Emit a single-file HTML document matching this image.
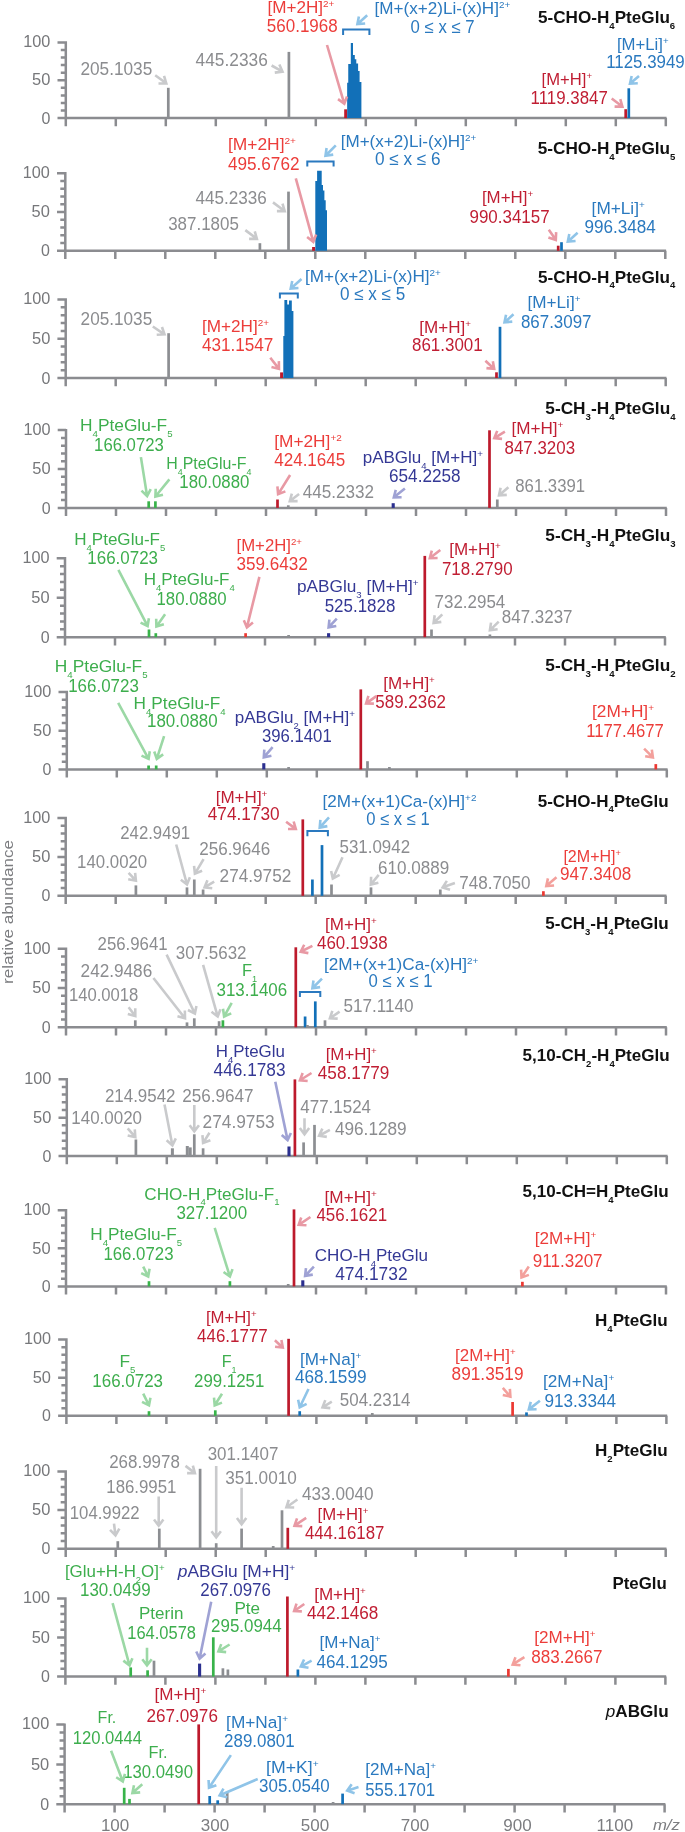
<!DOCTYPE html>
<html><head><meta charset="utf-8"><style>
html,body{margin:0;padding:0;background:#fff;}
svg{display:block;will-change:transform;}
text{font-family:"Liberation Sans", sans-serif;}
</style></head><body>
<svg width="685" height="1832" viewBox="0 0 685 1832">
<rect width="685" height="1832" fill="#ffffff"/>
<path d="M65.80 41.20V126.30M57.50 118.10H666.60M57.50 118.10H65.80M60.80 110.53H65.80M60.80 102.96H65.80M60.80 95.39H65.80M60.80 87.82H65.80M57.50 80.25H65.80M60.80 72.68H65.80M60.80 65.11H65.80M60.80 57.54H65.80M60.80 49.97H65.80M57.50 42.40H65.80M115.80 118.10V126.30M165.80 118.10V126.30M215.80 118.10V126.30M265.80 118.10V126.30M315.80 118.10V126.30M365.80 118.10V126.30M415.80 118.10V126.30M465.80 118.10V126.30M515.80 118.10V126.30M565.80 118.10V126.30M615.80 118.10V126.30M665.80 118.10V126.30" stroke="#8b8c90" stroke-width="2.50" fill="none"/>
<text x="23.30" y="47.20" fill="#76777a" font-size="17" textLength="27.10" lengthAdjust="spacingAndGlyphs">100</text>
<text x="32.10" y="85.45" fill="#76777a" font-size="17" textLength="18.30" lengthAdjust="spacingAndGlyphs">50</text>
<text x="41.50" y="123.70" fill="#76777a" font-size="17" textLength="8.90" lengthAdjust="spacingAndGlyphs">0</text>
<text x="538.0" y="23.3" fill="#111111" font-size="17.0" font-weight="bold" textLength="137.2" lengthAdjust="spacingAndGlyphs">5-CHO-H<tspan font-size="9.5" dy="5.9">4</tspan><tspan dy="-5.9">PteGlu</tspan><tspan font-size="9.5" dy="5.9">6</tspan></text>
<rect x="166.95" y="87.80" width="2.70" height="30.30" fill="#8c8e92"/>
<rect x="287.55" y="51.90" width="2.70" height="66.20" fill="#8c8e92"/>
<rect x="344.20" y="109.30" width="3.00" height="8.80" fill="#bd1a2c"/>
<path d="M347.15 118.10L347.15 82.70L348.25 82.70L348.25 64.10L350.80 64.10L350.80 42.90L353.00 42.90L353.00 55.00L354.80 55.00L354.80 59.30L356.30 59.30L356.30 63.40L358.10 63.40L358.10 71.00L359.60 71.00L359.60 82.00L361.40 82.00L361.40 118.10Z" fill="#1270b8"/>
<rect x="624.35" y="109.20" width="2.70" height="8.90" fill="#bd1a2c"/>
<rect x="627.45" y="88.30" width="2.70" height="29.80" fill="#1270b8"/>
<text x="80.4" y="74.6" fill="#8b8c8f" font-size="17.6" textLength="71.9" lengthAdjust="spacingAndGlyphs">205.1035</text>
<text x="195.6" y="65.7" fill="#8b8c8f" font-size="17.6" textLength="72.2" lengthAdjust="spacingAndGlyphs">445.2336</text>
<text x="267.5" y="13.4" fill="#ec3d3a" font-size="16.8" textLength="66.9" lengthAdjust="spacingAndGlyphs">[M+2H]<tspan font-size="9.7" dy="-6.0">2+</tspan></text>
<text x="266.8" y="31.6" fill="#ec3d3a" font-size="17.6" textLength="70.9" lengthAdjust="spacingAndGlyphs">560.1968</text>
<text x="374.5" y="13.8" fill="#2a79bf" font-size="16.8" textLength="135.7" lengthAdjust="spacingAndGlyphs">[M+(x+2)Li-(x)H]<tspan font-size="9.7" dy="-6.0">2+</tspan></text>
<text x="410.6" y="32.9" fill="#2a79bf" font-size="17.6" textLength="64.1" lengthAdjust="spacingAndGlyphs">0 ≤ x ≤ 7</text>
<text x="616.9" y="49.9" fill="#2a79bf" font-size="16.8" textLength="51.7" lengthAdjust="spacingAndGlyphs">[M+Li]<tspan font-size="9.7" dy="-6.0">+</tspan></text>
<text x="606.2" y="68.4" fill="#2a79bf" font-size="17.6" textLength="78.5" lengthAdjust="spacingAndGlyphs">1125.3949</text>
<text x="541.6" y="85.4" fill="#c01e33" font-size="16.8" textLength="50.4" lengthAdjust="spacingAndGlyphs">[M+H]<tspan font-size="9.7" dy="-6.0">+</tspan></text>
<text x="530.6" y="104.2" fill="#c01e33" font-size="17.6" textLength="77.2" lengthAdjust="spacingAndGlyphs">1119.3847</text>
<path d="M155.20 75.30L165.49 82.81M164.04 75.94L166.30 83.40L158.50 83.52" stroke="#c9cacc" stroke-width="2.60" fill="none" stroke-linejoin="miter" stroke-miterlimit="10"/>
<path d="M271.60 65.50L281.63 71.11M279.36 64.46L282.50 71.60L274.77 72.65" stroke="#c9cacc" stroke-width="2.60" fill="none" stroke-linejoin="miter" stroke-miterlimit="10"/>
<path d="M327.00 45.00L344.02 102.84M347.05 96.50L344.30 103.80L338.04 99.15" stroke="#e899a4" stroke-width="2.60" fill="none" stroke-linejoin="miter" stroke-miterlimit="10"/>
<path d="M367.20 15.30L358.14 23.43M365.17 23.43L357.40 24.10L358.90 16.45" stroke="#8fc4e8" stroke-width="2.60" fill="none" stroke-linejoin="miter" stroke-miterlimit="10"/>
<path d="M639.00 76.00L630.76 83.05M637.79 83.22L630.00 83.70L631.68 76.08" stroke="#8fc4e8" stroke-width="2.60" fill="none" stroke-linejoin="miter" stroke-miterlimit="10"/>
<path d="M611.70 98.50L621.60 106.00M620.27 99.10L622.40 106.60L614.60 106.58" stroke="#e899a4" stroke-width="2.60" fill="none" stroke-linejoin="miter" stroke-miterlimit="10"/>
<path d="M343.10 35.00L343.10 29.60L369.40 29.60L369.40 35.00" stroke="#2a79bf" stroke-width="2.00" fill="none"/>
<path d="M65.30 172.00V259.00M57.00 250.80H666.10M57.00 250.80H65.30M60.30 243.04H65.30M60.30 235.28H65.30M60.30 227.52H65.30M60.30 219.76H65.30M57.00 212.00H65.30M60.30 204.24H65.30M60.30 196.48H65.30M60.30 188.72H65.30M60.30 180.96H65.30M57.00 173.20H65.30M115.30 250.80V259.00M165.30 250.80V259.00M215.30 250.80V259.00M265.30 250.80V259.00M315.30 250.80V259.00M365.30 250.80V259.00M415.30 250.80V259.00M465.30 250.80V259.00M515.30 250.80V259.00M565.30 250.80V259.00M615.30 250.80V259.00M665.30 250.80V259.00" stroke="#8b8c90" stroke-width="2.50" fill="none"/>
<text x="22.80" y="178.00" fill="#76777a" font-size="17" textLength="27.10" lengthAdjust="spacingAndGlyphs">100</text>
<text x="31.60" y="217.20" fill="#76777a" font-size="17" textLength="18.30" lengthAdjust="spacingAndGlyphs">50</text>
<text x="41.00" y="256.40" fill="#76777a" font-size="17" textLength="8.90" lengthAdjust="spacingAndGlyphs">0</text>
<text x="537.8" y="153.9" fill="#111111" font-size="17.0" font-weight="bold" textLength="137.6" lengthAdjust="spacingAndGlyphs">5-CHO-H<tspan font-size="9.5" dy="5.9">4</tspan><tspan dy="-5.9">PteGlu</tspan><tspan font-size="9.5" dy="5.9">5</tspan></text>
<rect x="258.55" y="243.20" width="2.70" height="7.60" fill="#8c8e92"/>
<rect x="287.15" y="191.60" width="2.70" height="59.20" fill="#8c8e92"/>
<rect x="312.10" y="247.00" width="3.00" height="3.80" fill="#bd1a2c"/>
<path d="M315.30 250.80L315.30 181.00L317.10 181.00L317.10 170.80L321.70 170.80L321.70 185.10L323.00 185.10L323.00 190.40L324.40 190.40L324.40 200.30L325.70 200.30L325.70 210.20L327.00 210.20L327.00 250.80Z" fill="#1270b8"/>
<rect x="556.85" y="245.70" width="2.70" height="5.10" fill="#bd1a2c"/>
<rect x="560.15" y="242.20" width="2.70" height="8.60" fill="#1270b8"/>
<text x="195.4" y="203.9" fill="#8b8c8f" font-size="17.6" textLength="71.4" lengthAdjust="spacingAndGlyphs">445.2336</text>
<text x="168.2" y="229.6" fill="#8b8c8f" font-size="17.6" textLength="70.7" lengthAdjust="spacingAndGlyphs">387.1805</text>
<text x="227.9" y="150.2" fill="#ec3d3a" font-size="16.8" textLength="68.1" lengthAdjust="spacingAndGlyphs">[M+2H]<tspan font-size="9.7" dy="-6.0">2+</tspan></text>
<text x="227.9" y="170.4" fill="#ec3d3a" font-size="17.6" textLength="71.6" lengthAdjust="spacingAndGlyphs">495.6762</text>
<text x="340.7" y="146.7" fill="#2a79bf" font-size="16.8" textLength="135.5" lengthAdjust="spacingAndGlyphs">[M+(x+2)Li-(x)H]<tspan font-size="9.7" dy="-6.0">2+</tspan></text>
<text x="374.9" y="164.5" fill="#2a79bf" font-size="17.6" textLength="65.7" lengthAdjust="spacingAndGlyphs">0 ≤ x ≤ 6</text>
<text x="481.9" y="203.4" fill="#c01e33" font-size="16.8" textLength="51.2" lengthAdjust="spacingAndGlyphs">[M+H]<tspan font-size="9.7" dy="-6.0">+</tspan></text>
<text x="469.5" y="223.0" fill="#c01e33" font-size="17.6" textLength="80.1" lengthAdjust="spacingAndGlyphs">990.34157</text>
<text x="591.6" y="214.2" fill="#2a79bf" font-size="16.8" textLength="53.2" lengthAdjust="spacingAndGlyphs">[M+Li]<tspan font-size="9.7" dy="-6.0">+</tspan></text>
<text x="584.4" y="232.9" fill="#2a79bf" font-size="17.6" textLength="71.3" lengthAdjust="spacingAndGlyphs">996.3484</text>
<path d="M273.00 202.40L283.90 210.50M282.50 203.62L284.70 211.10L276.90 211.15" stroke="#c9cacc" stroke-width="2.60" fill="none" stroke-linejoin="miter" stroke-miterlimit="10"/>
<path d="M245.30 230.10L256.10 238.30M254.77 231.40L256.90 238.90L249.10 238.87" stroke="#c9cacc" stroke-width="2.60" fill="none" stroke-linejoin="miter" stroke-miterlimit="10"/>
<path d="M295.80 178.40L313.03 240.84M316.17 234.55L313.30 241.80L307.12 237.04" stroke="#e899a4" stroke-width="2.60" fill="none" stroke-linejoin="miter" stroke-miterlimit="10"/>
<path d="M335.80 145.40L326.21 154.99M333.22 154.61L325.50 155.70L326.59 147.98" stroke="#8fc4e8" stroke-width="2.60" fill="none" stroke-linejoin="miter" stroke-miterlimit="10"/>
<path d="M548.80 229.70L555.23 239.08M556.15 232.11L555.80 239.90L548.40 237.42" stroke="#e899a4" stroke-width="2.60" fill="none" stroke-linejoin="miter" stroke-miterlimit="10"/>
<path d="M577.60 232.80L568.54 240.93M575.57 240.93L567.80 241.60L569.30 233.95" stroke="#8fc4e8" stroke-width="2.60" fill="none" stroke-linejoin="miter" stroke-miterlimit="10"/>
<path d="M307.30 166.40L307.30 161.50L333.60 161.50L333.60 166.40" stroke="#2a79bf" stroke-width="2.00" fill="none"/>
<path d="M65.70 298.30V386.20M57.40 378.00H666.50M57.40 378.00H65.70M60.70 370.15H65.70M60.70 362.30H65.70M60.70 354.45H65.70M60.70 346.60H65.70M57.40 338.75H65.70M60.70 330.90H65.70M60.70 323.05H65.70M60.70 315.20H65.70M60.70 307.35H65.70M57.40 299.50H65.70M115.70 378.00V386.20M165.70 378.00V386.20M215.70 378.00V386.20M265.70 378.00V386.20M315.70 378.00V386.20M365.70 378.00V386.20M415.70 378.00V386.20M465.70 378.00V386.20M515.70 378.00V386.20M565.70 378.00V386.20M615.70 378.00V386.20M665.70 378.00V386.20" stroke="#8b8c90" stroke-width="2.50" fill="none"/>
<text x="23.20" y="304.30" fill="#76777a" font-size="17" textLength="27.10" lengthAdjust="spacingAndGlyphs">100</text>
<text x="32.00" y="343.95" fill="#76777a" font-size="17" textLength="18.30" lengthAdjust="spacingAndGlyphs">50</text>
<text x="41.40" y="383.60" fill="#76777a" font-size="17" textLength="8.90" lengthAdjust="spacingAndGlyphs">0</text>
<text x="538.0" y="282.5" fill="#111111" font-size="17.0" font-weight="bold" textLength="137.3" lengthAdjust="spacingAndGlyphs">5-CHO-H<tspan font-size="9.5" dy="5.9">4</tspan><tspan dy="-5.9">PteGlu</tspan><tspan font-size="9.5" dy="5.9">4</tspan></text>
<rect x="167.25" y="333.20" width="2.70" height="44.80" fill="#8c8e92"/>
<rect x="280.10" y="372.40" width="3.00" height="5.60" fill="#bd1a2c"/>
<path d="M283.30 378.00L283.30 336.10L284.40 336.10L284.40 300.10L287.20 300.10L287.20 304.50L289.00 304.50L289.00 300.60L291.80 300.60L291.80 311.00L293.40 311.00L293.40 378.00Z" fill="#1270b8"/>
<rect x="495.15" y="372.30" width="2.70" height="5.70" fill="#bd1a2c"/>
<rect x="498.65" y="326.80" width="2.70" height="51.20" fill="#1270b8"/>
<text x="80.6" y="324.6" fill="#8b8c8f" font-size="17.6" textLength="71.6" lengthAdjust="spacingAndGlyphs">205.1035</text>
<text x="201.9" y="332.1" fill="#ec3d3a" font-size="16.8" textLength="67.1" lengthAdjust="spacingAndGlyphs">[M+2H]<tspan font-size="9.7" dy="-6.0">2+</tspan></text>
<text x="201.9" y="350.9" fill="#ec3d3a" font-size="17.6" textLength="71.5" lengthAdjust="spacingAndGlyphs">431.1547</text>
<text x="304.9" y="281.6" fill="#2a79bf" font-size="16.8" textLength="136.0" lengthAdjust="spacingAndGlyphs">[M+(x+2)Li-(x)H]<tspan font-size="9.7" dy="-6.0">2+</tspan></text>
<text x="339.9" y="299.5" fill="#2a79bf" font-size="17.6" textLength="65.4" lengthAdjust="spacingAndGlyphs">0 ≤ x ≤ 5</text>
<text x="419.3" y="332.7" fill="#c01e33" font-size="16.8" textLength="51.7" lengthAdjust="spacingAndGlyphs">[M+H]<tspan font-size="9.7" dy="-6.0">+</tspan></text>
<text x="412.0" y="350.9" fill="#c01e33" font-size="17.6" textLength="70.7" lengthAdjust="spacingAndGlyphs">861.3001</text>
<text x="527.5" y="307.8" fill="#2a79bf" font-size="16.8" textLength="53.0" lengthAdjust="spacingAndGlyphs">[M+Li]<tspan font-size="9.7" dy="-6.0">+</tspan></text>
<text x="520.9" y="327.5" fill="#2a79bf" font-size="17.6" textLength="70.6" lengthAdjust="spacingAndGlyphs">867.3097</text>
<path d="M152.80 326.50L163.67 333.84M161.96 327.02L164.50 334.40L156.71 334.80" stroke="#c9cacc" stroke-width="2.60" fill="none" stroke-linejoin="miter" stroke-miterlimit="10"/>
<path d="M270.30 357.80L278.38 368.11M278.85 361.10L279.00 368.90L271.46 366.89" stroke="#e899a4" stroke-width="2.60" fill="none" stroke-linejoin="miter" stroke-miterlimit="10"/>
<path d="M301.50 279.00L291.45 287.94M298.47 287.97L290.70 288.60L292.24 280.95" stroke="#8fc4e8" stroke-width="2.60" fill="none" stroke-linejoin="miter" stroke-miterlimit="10"/>
<path d="M485.40 360.70L493.47 368.22M492.84 361.22L494.20 368.90L486.44 368.09" stroke="#e899a4" stroke-width="2.60" fill="none" stroke-linejoin="miter" stroke-miterlimit="10"/>
<path d="M513.50 314.30L505.25 321.64M512.27 321.67L504.50 322.30L506.04 314.65" stroke="#8fc4e8" stroke-width="2.60" fill="none" stroke-linejoin="miter" stroke-miterlimit="10"/>
<path d="M279.90 298.50L279.90 293.40L297.80 293.40L297.80 298.50" stroke="#2a79bf" stroke-width="2.00" fill="none"/>
<path d="M66.00 428.90V516.10M57.70 507.90H666.80M57.70 507.90H66.00M61.00 500.12H66.00M61.00 492.34H66.00M61.00 484.56H66.00M61.00 476.78H66.00M57.70 469.00H66.00M61.00 461.22H66.00M61.00 453.44H66.00M61.00 445.66H66.00M61.00 437.88H66.00M57.70 430.10H66.00M116.00 507.90V516.10M166.00 507.90V516.10M216.00 507.90V516.10M266.00 507.90V516.10M316.00 507.90V516.10M366.00 507.90V516.10M416.00 507.90V516.10M466.00 507.90V516.10M516.00 507.90V516.10M566.00 507.90V516.10M616.00 507.90V516.10M666.00 507.90V516.10" stroke="#8b8c90" stroke-width="2.50" fill="none"/>
<text x="23.50" y="434.90" fill="#76777a" font-size="17" textLength="27.10" lengthAdjust="spacingAndGlyphs">100</text>
<text x="32.30" y="474.20" fill="#76777a" font-size="17" textLength="18.30" lengthAdjust="spacingAndGlyphs">50</text>
<text x="41.70" y="513.50" fill="#76777a" font-size="17" textLength="8.90" lengthAdjust="spacingAndGlyphs">0</text>
<text x="545.3" y="413.6" fill="#111111" font-size="17.0" font-weight="bold" textLength="130.3" lengthAdjust="spacingAndGlyphs">5-CH<tspan font-size="9.5" dy="5.9">3</tspan><tspan dy="-5.9">-H</tspan><tspan font-size="9.5" dy="5.9">4</tspan><tspan dy="-5.9">PteGlu</tspan><tspan font-size="9.5" dy="5.9">4</tspan></text>
<rect x="147.35" y="501.30" width="2.70" height="6.60" fill="#38b34a"/>
<rect x="154.05" y="501.30" width="2.70" height="6.60" fill="#38b34a"/>
<rect x="276.15" y="499.50" width="2.70" height="8.40" fill="#bd1a2c"/>
<rect x="286.95" y="505.30" width="2.70" height="2.60" fill="#8c8e92"/>
<rect x="391.65" y="503.20" width="3.10" height="4.70" fill="#2b2f8f"/>
<rect x="488.15" y="430.30" width="2.70" height="77.60" fill="#bd1a2c"/>
<rect x="495.95" y="499.50" width="2.70" height="8.40" fill="#8c8e92"/>
<text x="80.0" y="431.2" fill="#3dae4d" font-size="16.8" textLength="92.6" lengthAdjust="spacingAndGlyphs">H<tspan font-size="9.4" dy="5.9">4</tspan><tspan dy="-5.9">PteGlu-F</tspan><tspan font-size="9.4" dy="5.9">5</tspan></text>
<text x="94.1" y="450.8" fill="#3dae4d" font-size="17.6" textLength="69.7" lengthAdjust="spacingAndGlyphs">166.0723</text>
<text x="166.2" y="468.6" fill="#3dae4d" font-size="16.8" textLength="85.2" lengthAdjust="spacingAndGlyphs">H<tspan font-size="9.4" dy="5.9">4</tspan><tspan dy="-5.9">PteGlu-F</tspan><tspan font-size="9.4" dy="5.9">4</tspan></text>
<text x="179.3" y="487.9" fill="#3dae4d" font-size="17.6" textLength="70.1" lengthAdjust="spacingAndGlyphs">180.0880</text>
<text x="274.2" y="446.7" fill="#ec3d3a" font-size="16.8" textLength="67.6" lengthAdjust="spacingAndGlyphs">[M+2H]<tspan font-size="9.7" dy="-6.0">+2</tspan></text>
<text x="274.2" y="466.1" fill="#ec3d3a" font-size="17.6" textLength="71.1" lengthAdjust="spacingAndGlyphs">424.1645</text>
<text x="302.7" y="497.9" fill="#8b8c8f" font-size="17.6" textLength="71.3" lengthAdjust="spacingAndGlyphs">445.2332</text>
<text x="362.7" y="463.3" fill="#343895" font-size="16.8" textLength="120.3" lengthAdjust="spacingAndGlyphs">pABGlu<tspan font-size="9.4" dy="5.9">4</tspan><tspan dy="-5.9"> [M+H]</tspan><tspan font-size="9.7" dy="-6.0">+</tspan></text>
<text x="389.0" y="481.5" fill="#343895" font-size="17.6" textLength="71.6" lengthAdjust="spacingAndGlyphs">654.2258</text>
<text x="511.5" y="434.1" fill="#c01e33" font-size="16.8" textLength="51.9" lengthAdjust="spacingAndGlyphs">[M+H]<tspan font-size="9.7" dy="-6.0">+</tspan></text>
<text x="504.5" y="453.7" fill="#c01e33" font-size="17.6" textLength="70.6" lengthAdjust="spacingAndGlyphs">847.3203</text>
<text x="515.3" y="491.7" fill="#8b8c8f" font-size="17.6" textLength="69.8" lengthAdjust="spacingAndGlyphs">861.3391</text>
<path d="M140.90 457.10L146.94 495.01M150.76 489.11L147.10 496.00L141.48 490.59" stroke="#9bd8a5" stroke-width="2.60" fill="none" stroke-linejoin="miter" stroke-miterlimit="10"/>
<path d="M169.40 479.40L156.03 495.73M162.98 494.65L155.40 496.50L155.71 488.71" stroke="#9bd8a5" stroke-width="2.60" fill="none" stroke-linejoin="miter" stroke-miterlimit="10"/>
<path d="M290.10 475.00L278.63 493.35M285.38 491.41L278.10 494.20L277.42 486.43" stroke="#e899a4" stroke-width="2.60" fill="none" stroke-linejoin="miter" stroke-miterlimit="10"/>
<path d="M299.10 494.00L290.59 500.59M297.60 501.10L289.80 501.20L291.85 493.67" stroke="#c9cacc" stroke-width="2.60" fill="none" stroke-linejoin="miter" stroke-miterlimit="10"/>
<path d="M404.90 488.60L394.58 496.78M401.60 497.21L393.80 497.40L395.77 489.85" stroke="#9fa2d4" stroke-width="2.60" fill="none" stroke-linejoin="miter" stroke-miterlimit="10"/>
<path d="M504.90 431.70L495.16 437.58M502.06 438.90L494.30 438.10L497.21 430.86" stroke="#e899a4" stroke-width="2.60" fill="none" stroke-linejoin="miter" stroke-miterlimit="10"/>
<path d="M508.40 487.20L499.75 494.74M506.78 494.84L499.00 495.40L500.61 487.77" stroke="#c9cacc" stroke-width="2.60" fill="none" stroke-linejoin="miter" stroke-miterlimit="10"/>
<path d="M65.00 557.10V645.40M56.70 637.20H665.80M56.70 637.20H65.00M60.00 629.31H65.00M60.00 621.42H65.00M60.00 613.53H65.00M60.00 605.64H65.00M56.70 597.75H65.00M60.00 589.86H65.00M60.00 581.97H65.00M60.00 574.08H65.00M60.00 566.19H65.00M56.70 558.30H65.00M115.00 637.20V645.40M165.00 637.20V645.40M215.00 637.20V645.40M265.00 637.20V645.40M315.00 637.20V645.40M365.00 637.20V645.40M415.00 637.20V645.40M465.00 637.20V645.40M515.00 637.20V645.40M565.00 637.20V645.40M615.00 637.20V645.40M665.00 637.20V645.40" stroke="#8b8c90" stroke-width="2.50" fill="none"/>
<text x="22.50" y="563.10" fill="#76777a" font-size="17" textLength="27.10" lengthAdjust="spacingAndGlyphs">100</text>
<text x="31.30" y="602.95" fill="#76777a" font-size="17" textLength="18.30" lengthAdjust="spacingAndGlyphs">50</text>
<text x="40.70" y="642.80" fill="#76777a" font-size="17" textLength="8.90" lengthAdjust="spacingAndGlyphs">0</text>
<text x="545.3" y="541.3" fill="#111111" font-size="17.0" font-weight="bold" textLength="130.3" lengthAdjust="spacingAndGlyphs">5-CH<tspan font-size="9.5" dy="5.9">3</tspan><tspan dy="-5.9">-H</tspan><tspan font-size="9.5" dy="5.9">4</tspan><tspan dy="-5.9">PteGlu</tspan><tspan font-size="9.5" dy="5.9">3</tspan></text>
<rect x="147.65" y="629.50" width="2.70" height="7.70" fill="#38b34a"/>
<rect x="154.45" y="633.20" width="2.70" height="4.00" fill="#38b34a"/>
<rect x="244.25" y="633.20" width="2.70" height="4.00" fill="#ec3832"/>
<rect x="287.25" y="635.00" width="2.70" height="2.20" fill="#8c8e92"/>
<rect x="327.05" y="633.20" width="3.10" height="4.00" fill="#2b2f8f"/>
<rect x="423.45" y="555.90" width="2.70" height="81.30" fill="#bd1a2c"/>
<rect x="430.15" y="629.50" width="2.70" height="7.70" fill="#8c8e92"/>
<rect x="488.55" y="634.50" width="2.70" height="2.70" fill="#8c8e92"/>
<text x="74.2" y="544.6" fill="#3dae4d" font-size="16.8" textLength="91.1" lengthAdjust="spacingAndGlyphs">H<tspan font-size="9.4" dy="5.9">4</tspan><tspan dy="-5.9">PteGlu-F</tspan><tspan font-size="9.4" dy="5.9">5</tspan></text>
<text x="87.3" y="564.2" fill="#3dae4d" font-size="17.6" textLength="70.7" lengthAdjust="spacingAndGlyphs">166.0723</text>
<text x="143.7" y="585.4" fill="#3dae4d" font-size="16.8" textLength="91.1" lengthAdjust="spacingAndGlyphs">H<tspan font-size="9.4" dy="5.9">4</tspan><tspan dy="-5.9">PteGlu-F</tspan><tspan font-size="9.4" dy="5.9">4</tspan></text>
<text x="156.5" y="605.0" fill="#3dae4d" font-size="17.6" textLength="70.1" lengthAdjust="spacingAndGlyphs">180.0880</text>
<text x="236.5" y="551.3" fill="#ec3d3a" font-size="16.8" textLength="65.5" lengthAdjust="spacingAndGlyphs">[M+2H]<tspan font-size="9.7" dy="-6.0">2+</tspan></text>
<text x="236.5" y="570.0" fill="#ec3d3a" font-size="17.6" textLength="71.3" lengthAdjust="spacingAndGlyphs">359.6432</text>
<text x="297.0" y="592.1" fill="#343895" font-size="16.8" textLength="121.7" lengthAdjust="spacingAndGlyphs">pABGlu<tspan font-size="9.4" dy="5.9">3</tspan><tspan dy="-5.9"> [M+H]</tspan><tspan font-size="9.7" dy="-6.0">+</tspan></text>
<text x="324.7" y="611.5" fill="#343895" font-size="17.6" textLength="70.7" lengthAdjust="spacingAndGlyphs">525.1828</text>
<text x="449.2" y="554.8" fill="#c01e33" font-size="16.8" textLength="51.7" lengthAdjust="spacingAndGlyphs">[M+H]<tspan font-size="9.7" dy="-6.0">+</tspan></text>
<text x="441.9" y="575.0" fill="#c01e33" font-size="17.6" textLength="70.7" lengthAdjust="spacingAndGlyphs">718.2790</text>
<text x="434.6" y="607.9" fill="#8b8c8f" font-size="17.6" textLength="70.7" lengthAdjust="spacingAndGlyphs">732.2954</text>
<text x="501.8" y="622.5" fill="#8b8c8f" font-size="17.6" textLength="70.7" lengthAdjust="spacingAndGlyphs">847.3237</text>
<path d="M118.40 569.90L147.14 625.11M148.89 618.31L147.60 626.00L140.56 622.64" stroke="#9bd8a5" stroke-width="2.60" fill="none" stroke-linejoin="miter" stroke-miterlimit="10"/>
<path d="M165.10 614.30L156.98 625.69M163.84 624.15L156.40 626.50L156.19 618.70" stroke="#9bd8a5" stroke-width="2.60" fill="none" stroke-linejoin="miter" stroke-miterlimit="10"/>
<path d="M259.40 576.90L247.14 626.43M252.95 622.48L246.90 627.40L243.84 620.23" stroke="#e899a4" stroke-width="2.60" fill="none" stroke-linejoin="miter" stroke-miterlimit="10"/>
<path d="M336.80 618.60L329.28 626.67M336.28 626.04L328.60 627.40L329.41 619.64" stroke="#9fa2d4" stroke-width="2.60" fill="none" stroke-linejoin="miter" stroke-miterlimit="10"/>
<path d="M440.30 550.00L430.59 557.58M437.60 558.07L429.80 558.20L431.82 550.67" stroke="#e899a4" stroke-width="2.60" fill="none" stroke-linejoin="miter" stroke-miterlimit="10"/>
<path d="M442.30 614.30L434.31 622.29M441.32 621.91L433.60 623.00L434.69 615.28" stroke="#c9cacc" stroke-width="2.60" fill="none" stroke-linejoin="miter" stroke-miterlimit="10"/>
<path d="M498.70 621.60L490.61 629.60M497.63 629.26L489.90 630.30L491.03 622.58" stroke="#c9cacc" stroke-width="2.60" fill="none" stroke-linejoin="miter" stroke-miterlimit="10"/>
<path d="M66.80 690.80V777.60M58.50 769.40H667.60M58.50 769.40H66.80M61.80 761.66H66.80M61.80 753.92H66.80M61.80 746.18H66.80M61.80 738.44H66.80M58.50 730.70H66.80M61.80 722.96H66.80M61.80 715.22H66.80M61.80 707.48H66.80M61.80 699.74H66.80M58.50 692.00H66.80M116.80 769.40V777.60M166.80 769.40V777.60M216.80 769.40V777.60M266.80 769.40V777.60M316.80 769.40V777.60M366.80 769.40V777.60M416.80 769.40V777.60M466.80 769.40V777.60M516.80 769.40V777.60M566.80 769.40V777.60M616.80 769.40V777.60M666.80 769.40V777.60" stroke="#8b8c90" stroke-width="2.50" fill="none"/>
<text x="24.30" y="696.80" fill="#76777a" font-size="17" textLength="27.10" lengthAdjust="spacingAndGlyphs">100</text>
<text x="33.10" y="735.90" fill="#76777a" font-size="17" textLength="18.30" lengthAdjust="spacingAndGlyphs">50</text>
<text x="42.50" y="775.00" fill="#76777a" font-size="17" textLength="8.90" lengthAdjust="spacingAndGlyphs">0</text>
<text x="545.3" y="671.3" fill="#111111" font-size="17.0" font-weight="bold" textLength="130.3" lengthAdjust="spacingAndGlyphs">5-CH<tspan font-size="9.5" dy="5.9">3</tspan><tspan dy="-5.9">-H</tspan><tspan font-size="9.5" dy="5.9">4</tspan><tspan dy="-5.9">PteGlu</tspan><tspan font-size="9.5" dy="5.9">2</tspan></text>
<rect x="147.25" y="765.50" width="2.70" height="3.90" fill="#38b34a"/>
<rect x="154.85" y="765.50" width="2.70" height="3.90" fill="#38b34a"/>
<rect x="262.25" y="763.20" width="3.10" height="6.20" fill="#2b2f8f"/>
<rect x="287.25" y="767.00" width="2.70" height="2.40" fill="#8c8e92"/>
<rect x="359.45" y="689.40" width="2.70" height="80.00" fill="#bd1a2c"/>
<rect x="366.15" y="761.20" width="2.70" height="8.20" fill="#8c8e92"/>
<rect x="388.05" y="767.00" width="2.70" height="2.40" fill="#8c8e92"/>
<rect x="654.45" y="764.10" width="2.70" height="5.30" fill="#ec3832"/>
<text x="54.8" y="671.6" fill="#3dae4d" font-size="16.8" textLength="92.8" lengthAdjust="spacingAndGlyphs">H<tspan font-size="9.4" dy="5.9">4</tspan><tspan dy="-5.9">PteGlu-F</tspan><tspan font-size="9.4" dy="5.9">5</tspan></text>
<text x="68.2" y="691.8" fill="#3dae4d" font-size="17.6" textLength="70.7" lengthAdjust="spacingAndGlyphs">166.0723</text>
<text x="133.6" y="708.7" fill="#3dae4d" font-size="16.8" textLength="92.0" lengthAdjust="spacingAndGlyphs">H<tspan font-size="9.4" dy="5.9">4</tspan><tspan dy="-5.9">PteGlu-F</tspan><tspan font-size="9.4" dy="5.9">4</tspan></text>
<text x="147.0" y="727.4" fill="#3dae4d" font-size="17.6" textLength="70.7" lengthAdjust="spacingAndGlyphs">180.0880</text>
<text x="234.8" y="723.3" fill="#343895" font-size="16.8" textLength="120.3" lengthAdjust="spacingAndGlyphs">pABGlu<tspan font-size="9.4" dy="5.9">2</tspan><tspan dy="-5.9"> [M+H]</tspan><tspan font-size="9.7" dy="-6.0">+</tspan></text>
<text x="261.9" y="741.5" fill="#343895" font-size="17.6" textLength="69.8" lengthAdjust="spacingAndGlyphs">396.1401</text>
<text x="383.2" y="689.2" fill="#c01e33" font-size="16.8" textLength="51.7" lengthAdjust="spacingAndGlyphs">[M+H]<tspan font-size="9.7" dy="-6.0">+</tspan></text>
<text x="375.3" y="707.9" fill="#c01e33" font-size="17.6" textLength="70.7" lengthAdjust="spacingAndGlyphs">589.2362</text>
<text x="592.0" y="716.9" fill="#ec3d3a" font-size="16.8" textLength="62.0" lengthAdjust="spacingAndGlyphs">[2M+H]<tspan font-size="9.7" dy="-6.0">+</tspan></text>
<text x="586.2" y="737.1" fill="#ec3d3a" font-size="17.6" textLength="77.7" lengthAdjust="spacingAndGlyphs">1177.4677</text>
<path d="M118.20 702.80L148.12 758.02M149.76 751.19L148.60 758.90L141.50 755.66" stroke="#9bd8a5" stroke-width="2.60" fill="none" stroke-linejoin="miter" stroke-miterlimit="10"/>
<path d="M164.10 736.10L157.10 757.95M163.17 754.40L156.80 758.90L154.23 751.54" stroke="#9bd8a5" stroke-width="2.60" fill="none" stroke-linejoin="miter" stroke-miterlimit="10"/>
<path d="M272.60 747.20L264.45 756.64M271.42 755.75L263.80 757.40L264.32 749.62" stroke="#9fa2d4" stroke-width="2.60" fill="none" stroke-linejoin="miter" stroke-miterlimit="10"/>
<path d="M376.30 696.10L366.91 702.82M373.90 703.59L366.10 703.40L368.43 695.96" stroke="#e899a4" stroke-width="2.60" fill="none" stroke-linejoin="miter" stroke-miterlimit="10"/>
<path d="M644.10 748.60L652.19 756.69M651.81 749.68L652.90 757.40L645.18 756.31" stroke="#f3a09c" stroke-width="2.60" fill="none" stroke-linejoin="miter" stroke-miterlimit="10"/>
<path d="M65.70 816.80V904.00M57.40 895.80H666.50M57.40 895.80H65.70M60.70 888.02H65.70M60.70 880.24H65.70M60.70 872.46H65.70M60.70 864.68H65.70M57.40 856.90H65.70M60.70 849.12H65.70M60.70 841.34H65.70M60.70 833.56H65.70M60.70 825.78H65.70M57.40 818.00H65.70M115.70 895.80V904.00M165.70 895.80V904.00M215.70 895.80V904.00M265.70 895.80V904.00M315.70 895.80V904.00M365.70 895.80V904.00M415.70 895.80V904.00M465.70 895.80V904.00M515.70 895.80V904.00M565.70 895.80V904.00M615.70 895.80V904.00M665.70 895.80V904.00" stroke="#8b8c90" stroke-width="2.50" fill="none"/>
<text x="23.20" y="822.80" fill="#76777a" font-size="17" textLength="27.10" lengthAdjust="spacingAndGlyphs">100</text>
<text x="32.00" y="862.10" fill="#76777a" font-size="17" textLength="18.30" lengthAdjust="spacingAndGlyphs">50</text>
<text x="41.40" y="901.40" fill="#76777a" font-size="17" textLength="8.90" lengthAdjust="spacingAndGlyphs">0</text>
<text x="537.7" y="806.5" fill="#111111" font-size="17.0" font-weight="bold" textLength="130.9" lengthAdjust="spacingAndGlyphs">5-CHO-H<tspan font-size="9.5" dy="5.9">4</tspan><tspan dy="-5.9">PteGlu</tspan></text>
<rect x="134.55" y="885.40" width="2.70" height="10.40" fill="#8c8e92"/>
<rect x="185.65" y="887.40" width="2.70" height="8.40" fill="#8c8e92"/>
<rect x="192.95" y="879.50" width="2.70" height="16.30" fill="#8c8e92"/>
<rect x="201.75" y="889.50" width="2.70" height="6.30" fill="#8c8e92"/>
<rect x="301.45" y="819.40" width="2.70" height="76.40" fill="#bd1a2c"/>
<rect x="311.05" y="879.50" width="2.70" height="16.30" fill="#1270b8"/>
<rect x="320.65" y="845.10" width="2.70" height="50.70" fill="#1270b8"/>
<rect x="330.15" y="884.50" width="2.70" height="11.30" fill="#8c8e92"/>
<rect x="369.65" y="887.40" width="2.70" height="8.40" fill="#8c8e92"/>
<rect x="438.95" y="889.50" width="2.70" height="6.30" fill="#8c8e92"/>
<rect x="542.05" y="891.20" width="2.70" height="4.60" fill="#ec3832"/>
<text x="77.1" y="867.9" fill="#8b8c8f" font-size="17.6" textLength="70.1" lengthAdjust="spacingAndGlyphs">140.0020</text>
<text x="120.3" y="839.3" fill="#8b8c8f" font-size="17.6" textLength="69.8" lengthAdjust="spacingAndGlyphs">242.9491</text>
<text x="199.2" y="854.5" fill="#8b8c8f" font-size="17.6" textLength="71.1" lengthAdjust="spacingAndGlyphs">256.9646</text>
<text x="219.6" y="881.7" fill="#8b8c8f" font-size="17.6" textLength="71.7" lengthAdjust="spacingAndGlyphs">274.9752</text>
<text x="215.7" y="803.1" fill="#c01e33" font-size="16.8" textLength="51.7" lengthAdjust="spacingAndGlyphs">[M+H]<tspan font-size="9.7" dy="-6.0">+</tspan></text>
<text x="207.8" y="820.4" fill="#c01e33" font-size="17.6" textLength="71.8" lengthAdjust="spacingAndGlyphs">474.1730</text>
<text x="322.5" y="806.6" fill="#2a79bf" font-size="16.8" textLength="153.9" lengthAdjust="spacingAndGlyphs">[2M+(x+1)Ca-(x)H]<tspan font-size="9.7" dy="-6.0">+2</tspan></text>
<text x="366.3" y="825.3" fill="#2a79bf" font-size="17.6" textLength="63.4" lengthAdjust="spacingAndGlyphs">0 ≤ x ≤ 1</text>
<text x="339.5" y="853.3" fill="#8b8c8f" font-size="17.6" textLength="70.6" lengthAdjust="spacingAndGlyphs">531.0942</text>
<text x="378.0" y="873.8" fill="#8b8c8f" font-size="17.6" textLength="71.2" lengthAdjust="spacingAndGlyphs">610.0889</text>
<text x="459.2" y="889.0" fill="#8b8c8f" font-size="17.6" textLength="71.3" lengthAdjust="spacingAndGlyphs">748.7050</text>
<text x="563.4" y="861.5" fill="#ec3d3a" font-size="16.8" textLength="57.6" lengthAdjust="spacingAndGlyphs">[2M+H]<tspan font-size="9.7" dy="-6.0">+</tspan></text>
<text x="559.9" y="880.2" fill="#ec3d3a" font-size="17.6" textLength="71.3" lengthAdjust="spacingAndGlyphs">947.3408</text>
<path d="M128.60 872.80L135.22 879.97M135.12 872.94L135.90 880.70L128.22 879.31" stroke="#c9cacc" stroke-width="2.60" fill="none" stroke-linejoin="miter" stroke-miterlimit="10"/>
<path d="M176.20 844.50L186.74 883.53M189.91 877.26L187.00 884.50L180.84 879.71" stroke="#c9cacc" stroke-width="2.60" fill="none" stroke-linejoin="miter" stroke-miterlimit="10"/>
<path d="M203.60 859.10L195.41 872.84M202.12 870.75L194.90 873.70L194.06 865.95" stroke="#c9cacc" stroke-width="2.60" fill="none" stroke-linejoin="miter" stroke-miterlimit="10"/>
<path d="M214.20 881.60L205.36 886.89M212.26 888.23L204.50 887.40L207.44 880.17" stroke="#c9cacc" stroke-width="2.60" fill="none" stroke-linejoin="miter" stroke-miterlimit="10"/>
<path d="M286.10 821.70L295.00 828.40M293.65 821.50L295.80 829.00L288.00 829.00" stroke="#e899a4" stroke-width="2.60" fill="none" stroke-linejoin="miter" stroke-miterlimit="10"/>
<path d="M329.00 817.30L320.37 826.86M327.36 826.12L319.70 827.60L320.39 819.83" stroke="#8fc4e8" stroke-width="2.60" fill="none" stroke-linejoin="miter" stroke-miterlimit="10"/>
<path d="M342.50 857.30L333.21 877.69M339.65 874.88L332.80 878.60L331.11 870.99" stroke="#c9cacc" stroke-width="2.60" fill="none" stroke-linejoin="miter" stroke-miterlimit="10"/>
<path d="M378.70 874.90L371.44 883.73M378.38 882.67L370.80 884.50L371.13 876.71" stroke="#c9cacc" stroke-width="2.60" fill="none" stroke-linejoin="miter" stroke-miterlimit="10"/>
<path d="M454.90 883.00L443.54 887.06M450.05 889.72L442.60 887.40L446.88 880.88" stroke="#c9cacc" stroke-width="2.60" fill="none" stroke-linejoin="miter" stroke-miterlimit="10"/>
<path d="M556.50 877.20L547.06 885.35M554.08 885.48L546.30 886.00L547.95 878.38" stroke="#f3a09c" stroke-width="2.60" fill="none" stroke-linejoin="miter" stroke-miterlimit="10"/>
<path d="M307.40 836.30L307.40 831.10L327.90 831.10L327.90 836.30" stroke="#2a79bf" stroke-width="2.00" fill="none"/>
<path d="M66.00 947.50V1035.50M57.70 1027.30H666.80M57.70 1027.30H66.00M61.00 1019.44H66.00M61.00 1011.58H66.00M61.00 1003.72H66.00M61.00 995.86H66.00M57.70 988.00H66.00M61.00 980.14H66.00M61.00 972.28H66.00M61.00 964.42H66.00M61.00 956.56H66.00M57.70 948.70H66.00M116.00 1027.30V1035.50M166.00 1027.30V1035.50M216.00 1027.30V1035.50M266.00 1027.30V1035.50M316.00 1027.30V1035.50M366.00 1027.30V1035.50M416.00 1027.30V1035.50M466.00 1027.30V1035.50M516.00 1027.30V1035.50M566.00 1027.30V1035.50M616.00 1027.30V1035.50M666.00 1027.30V1035.50" stroke="#8b8c90" stroke-width="2.50" fill="none"/>
<text x="23.50" y="953.50" fill="#76777a" font-size="17" textLength="27.10" lengthAdjust="spacingAndGlyphs">100</text>
<text x="32.30" y="993.20" fill="#76777a" font-size="17" textLength="18.30" lengthAdjust="spacingAndGlyphs">50</text>
<text x="41.70" y="1032.90" fill="#76777a" font-size="17" textLength="8.90" lengthAdjust="spacingAndGlyphs">0</text>
<text x="545.3" y="928.9" fill="#111111" font-size="17.0" font-weight="bold" textLength="123.3" lengthAdjust="spacingAndGlyphs">5-CH<tspan font-size="9.5" dy="5.9">3</tspan><tspan dy="-5.9">-H</tspan><tspan font-size="9.5" dy="5.9">4</tspan><tspan dy="-5.9">PteGlu</tspan></text>
<rect x="133.95" y="1020.30" width="2.70" height="7.00" fill="#8c8e92"/>
<rect x="185.65" y="1022.40" width="2.70" height="4.90" fill="#8c8e92"/>
<rect x="192.95" y="1018.30" width="2.70" height="9.00" fill="#8c8e92"/>
<rect x="217.75" y="1021.20" width="2.70" height="6.10" fill="#8c8e92"/>
<rect x="221.55" y="1020.30" width="2.70" height="7.00" fill="#38b34a"/>
<rect x="294.45" y="947.30" width="2.70" height="80.00" fill="#bd1a2c"/>
<rect x="303.75" y="1016.50" width="2.70" height="10.80" fill="#1270b8"/>
<rect x="306.05" y="1025.00" width="2.70" height="2.30" fill="#8c8e92"/>
<rect x="313.95" y="1001.40" width="2.70" height="25.90" fill="#1270b8"/>
<rect x="323.65" y="1020.30" width="2.70" height="7.00" fill="#8c8e92"/>
<text x="68.9" y="1000.9" fill="#8b8c8f" font-size="17.6" textLength="69.5" lengthAdjust="spacingAndGlyphs">140.0018</text>
<text x="80.6" y="976.6" fill="#8b8c8f" font-size="17.6" textLength="71.6" lengthAdjust="spacingAndGlyphs">242.9486</text>
<text x="97.6" y="950.4" fill="#8b8c8f" font-size="17.6" textLength="70.0" lengthAdjust="spacingAndGlyphs">256.9641</text>
<text x="175.8" y="959.1" fill="#8b8c8f" font-size="17.6" textLength="70.7" lengthAdjust="spacingAndGlyphs">307.5632</text>
<text x="241.9" y="976.3" fill="#3dae4d" font-size="16.8" textLength="15.2" lengthAdjust="spacingAndGlyphs">F<tspan font-size="9.4" dy="5.9">1</tspan></text>
<text x="216.5" y="996.2" fill="#3dae4d" font-size="17.6" textLength="70.7" lengthAdjust="spacingAndGlyphs">313.1406</text>
<text x="325.1" y="929.6" fill="#c01e33" font-size="16.8" textLength="51.7" lengthAdjust="spacingAndGlyphs">[M+H]<tspan font-size="9.7" dy="-6.0">+</tspan></text>
<text x="317.0" y="948.9" fill="#c01e33" font-size="17.6" textLength="70.6" lengthAdjust="spacingAndGlyphs">460.1938</text>
<text x="324.0" y="969.6" fill="#2a79bf" font-size="16.8" textLength="154.4" lengthAdjust="spacingAndGlyphs">[2M+(x+1)Ca-(x)H]<tspan font-size="9.7" dy="-6.0">2+</tspan></text>
<text x="368.6" y="987.4" fill="#2a79bf" font-size="17.6" textLength="64.0" lengthAdjust="spacingAndGlyphs">0 ≤ x ≤ 1</text>
<text x="343.5" y="1011.7" fill="#8b8c8f" font-size="17.6" textLength="70.1" lengthAdjust="spacingAndGlyphs">517.1140</text>
<path d="M128.60 1007.20L134.69 1015.20M135.26 1008.20L135.30 1016.00L127.79 1013.89" stroke="#c9cacc" stroke-width="2.60" fill="none" stroke-linejoin="miter" stroke-miterlimit="10"/>
<path d="M153.40 978.00L184.38 1017.51M184.85 1010.50L185.00 1018.30L177.46 1016.29" stroke="#c9cacc" stroke-width="2.60" fill="none" stroke-linejoin="miter" stroke-miterlimit="10"/>
<path d="M166.60 954.60L194.47 1012.70M196.44 1005.95L194.90 1013.60L187.97 1010.01" stroke="#c9cacc" stroke-width="2.60" fill="none" stroke-linejoin="miter" stroke-miterlimit="10"/>
<path d="M203.10 964.90L217.43 1015.54M220.52 1009.23L217.70 1016.50L211.49 1011.78" stroke="#c9cacc" stroke-width="2.60" fill="none" stroke-linejoin="miter" stroke-miterlimit="10"/>
<path d="M231.70 1002.80L224.59 1015.63M231.23 1013.33L224.10 1016.50L223.02 1008.78" stroke="#9bd8a5" stroke-width="2.60" fill="none" stroke-linejoin="miter" stroke-miterlimit="10"/>
<path d="M312.40 945.90L301.60 951.26M308.37 953.14L300.70 951.70L304.20 944.73" stroke="#e899a4" stroke-width="2.60" fill="none" stroke-linejoin="miter" stroke-miterlimit="10"/>
<path d="M322.00 978.60L313.11 987.49M320.12 987.11L312.40 988.20L313.49 980.48" stroke="#8fc4e8" stroke-width="2.60" fill="none" stroke-linejoin="miter" stroke-miterlimit="10"/>
<path d="M339.60 1011.60L330.72 1017.73M337.69 1018.62L329.90 1018.30L332.36 1010.90" stroke="#c9cacc" stroke-width="2.60" fill="none" stroke-linejoin="miter" stroke-miterlimit="10"/>
<path d="M299.90 997.00L299.90 992.00L320.30 992.00L320.30 997.00" stroke="#2a79bf" stroke-width="2.00" fill="none"/>
<text transform="translate(13.0 912) rotate(-90)" fill="#7c7d80" font-size="15.5" text-anchor="middle" textLength="144" lengthAdjust="spacingAndGlyphs">relative abundance</text>
<path d="M66.80 1078.00V1164.30M58.50 1156.10H667.60M58.50 1156.10H66.80M61.80 1148.41H66.80M61.80 1140.72H66.80M61.80 1133.03H66.80M61.80 1125.34H66.80M58.50 1117.65H66.80M61.80 1109.96H66.80M61.80 1102.27H66.80M61.80 1094.58H66.80M61.80 1086.89H66.80M58.50 1079.20H66.80M116.80 1156.10V1164.30M166.80 1156.10V1164.30M216.80 1156.10V1164.30M266.80 1156.10V1164.30M316.80 1156.10V1164.30M366.80 1156.10V1164.30M416.80 1156.10V1164.30M466.80 1156.10V1164.30M516.80 1156.10V1164.30M566.80 1156.10V1164.30M616.80 1156.10V1164.30M666.80 1156.10V1164.30" stroke="#8b8c90" stroke-width="2.50" fill="none"/>
<text x="24.30" y="1084.00" fill="#76777a" font-size="17" textLength="27.10" lengthAdjust="spacingAndGlyphs">100</text>
<text x="33.10" y="1122.85" fill="#76777a" font-size="17" textLength="18.30" lengthAdjust="spacingAndGlyphs">50</text>
<text x="42.50" y="1161.70" fill="#76777a" font-size="17" textLength="8.90" lengthAdjust="spacingAndGlyphs">0</text>
<text x="522.6" y="1060.7" fill="#111111" font-size="17.0" font-weight="bold" textLength="147.1" lengthAdjust="spacingAndGlyphs">5,10-CH<tspan font-size="9.5" dy="5.9">2</tspan><tspan dy="-5.9">-H</tspan><tspan font-size="9.5" dy="5.9">4</tspan><tspan dy="-5.9">PteGlu</tspan></text>
<rect x="134.55" y="1139.50" width="2.70" height="16.60" fill="#8c8e92"/>
<rect x="170.90" y="1148.30" width="3.00" height="7.80" fill="#8c8e92"/>
<rect x="185.80" y="1146.00" width="3.00" height="10.10" fill="#8c8e92"/>
<rect x="188.70" y="1147.40" width="3.00" height="8.70" fill="#8c8e92"/>
<rect x="192.95" y="1134.30" width="2.70" height="21.80" fill="#8c8e92"/>
<rect x="201.75" y="1148.30" width="2.70" height="7.80" fill="#8c8e92"/>
<rect x="287.45" y="1146.50" width="3.10" height="9.60" fill="#2b2f8f"/>
<rect x="293.55" y="1079.40" width="2.70" height="76.70" fill="#bd1a2c"/>
<rect x="302.25" y="1142.40" width="2.70" height="13.70" fill="#8c8e92"/>
<rect x="313.15" y="1124.90" width="2.70" height="31.20" fill="#8c8e92"/>
<text x="71.3" y="1124.2" fill="#8b8c8f" font-size="17.6" textLength="70.7" lengthAdjust="spacingAndGlyphs">140.0020</text>
<text x="104.9" y="1101.7" fill="#8b8c8f" font-size="17.6" textLength="70.6" lengthAdjust="spacingAndGlyphs">214.9542</text>
<text x="182.2" y="1101.7" fill="#8b8c8f" font-size="17.6" textLength="71.3" lengthAdjust="spacingAndGlyphs">256.9647</text>
<text x="202.5" y="1127.9" fill="#8b8c8f" font-size="17.6" textLength="72.2" lengthAdjust="spacingAndGlyphs">274.9753</text>
<text x="215.7" y="1056.7" fill="#343895" font-size="16.8" textLength="69.2" lengthAdjust="spacingAndGlyphs">H<tspan font-size="9.4" dy="5.9">4</tspan><tspan dy="-5.9">PteGlu</tspan></text>
<text x="213.6" y="1076.0" fill="#343895" font-size="17.6" textLength="71.9" lengthAdjust="spacingAndGlyphs">446.1783</text>
<text x="325.7" y="1059.6" fill="#c01e33" font-size="16.8" textLength="51.1" lengthAdjust="spacingAndGlyphs">[M+H]<tspan font-size="9.7" dy="-6.0">+</tspan></text>
<text x="317.8" y="1078.9" fill="#c01e33" font-size="17.6" textLength="71.6" lengthAdjust="spacingAndGlyphs">458.1779</text>
<text x="300.3" y="1112.5" fill="#8b8c8f" font-size="17.6" textLength="70.7" lengthAdjust="spacingAndGlyphs">477.1524</text>
<text x="334.9" y="1135.0" fill="#8b8c8f" font-size="17.6" textLength="71.8" lengthAdjust="spacingAndGlyphs">496.1289</text>
<path d="M127.70 1128.40L134.65 1136.44M134.78 1129.42L135.30 1137.20L127.68 1135.55" stroke="#c9cacc" stroke-width="2.60" fill="none" stroke-linejoin="miter" stroke-miterlimit="10"/>
<path d="M164.50 1104.50L172.21 1144.42M175.83 1138.39L172.40 1145.40L166.61 1140.17" stroke="#c9cacc" stroke-width="2.60" fill="none" stroke-linejoin="miter" stroke-miterlimit="10"/>
<path d="M194.30 1105.10L194.30 1130.40M198.99 1125.17L194.30 1131.40L189.61 1125.17" stroke="#c9cacc" stroke-width="2.60" fill="none" stroke-linejoin="miter" stroke-miterlimit="10"/>
<path d="M209.50 1132.80L203.63 1142.15M210.39 1140.22L203.10 1143.00L202.43 1135.23" stroke="#c9cacc" stroke-width="2.60" fill="none" stroke-linejoin="miter" stroke-miterlimit="10"/>
<path d="M275.30 1081.70L287.39 1139.12M290.91 1133.04L287.60 1140.10L281.72 1134.97" stroke="#9fa2d4" stroke-width="2.60" fill="none" stroke-linejoin="miter" stroke-miterlimit="10"/>
<path d="M311.50 1073.00L300.75 1079.77M307.67 1080.96L299.90 1080.30L302.67 1073.01" stroke="#e899a4" stroke-width="2.60" fill="none" stroke-linejoin="miter" stroke-miterlimit="10"/>
<path d="M304.50 1118.20L304.50 1133.30M309.19 1128.07L304.50 1134.30L299.81 1128.07" stroke="#c9cacc" stroke-width="2.60" fill="none" stroke-linejoin="miter" stroke-miterlimit="10"/>
<path d="M329.90 1129.90L319.98 1135.23M326.81 1136.89L319.10 1135.70L322.37 1128.62" stroke="#c9cacc" stroke-width="2.60" fill="none" stroke-linejoin="miter" stroke-miterlimit="10"/>
<path d="M66.00 1209.00V1294.60M57.70 1286.40H666.80M57.70 1286.40H66.00M61.00 1278.78H66.00M61.00 1271.16H66.00M61.00 1263.54H66.00M61.00 1255.92H66.00M57.70 1248.30H66.00M61.00 1240.68H66.00M61.00 1233.06H66.00M61.00 1225.44H66.00M61.00 1217.82H66.00M57.70 1210.20H66.00M116.00 1286.40V1294.60M166.00 1286.40V1294.60M216.00 1286.40V1294.60M266.00 1286.40V1294.60M316.00 1286.40V1294.60M366.00 1286.40V1294.60M416.00 1286.40V1294.60M466.00 1286.40V1294.60M516.00 1286.40V1294.60M566.00 1286.40V1294.60M616.00 1286.40V1294.60M666.00 1286.40V1294.60" stroke="#8b8c90" stroke-width="2.50" fill="none"/>
<text x="23.50" y="1215.00" fill="#76777a" font-size="17" textLength="27.10" lengthAdjust="spacingAndGlyphs">100</text>
<text x="32.30" y="1253.50" fill="#76777a" font-size="17" textLength="18.30" lengthAdjust="spacingAndGlyphs">50</text>
<text x="41.70" y="1292.00" fill="#76777a" font-size="17" textLength="8.90" lengthAdjust="spacingAndGlyphs">0</text>
<text x="522.6" y="1197.1" fill="#111111" font-size="17.0" font-weight="bold" textLength="146.0" lengthAdjust="spacingAndGlyphs">5,10-CH=H<tspan font-size="9.5" dy="5.9">4</tspan><tspan dy="-5.9">PteGlu</tspan></text>
<rect x="147.65" y="1281.20" width="2.70" height="5.20" fill="#38b34a"/>
<rect x="228.55" y="1281.20" width="2.70" height="5.20" fill="#38b34a"/>
<rect x="286.85" y="1284.00" width="2.70" height="2.40" fill="#8c8e92"/>
<rect x="292.65" y="1209.40" width="2.70" height="77.00" fill="#bd1a2c"/>
<rect x="301.25" y="1280.30" width="3.10" height="6.10" fill="#2b2f8f"/>
<rect x="521.05" y="1281.80" width="2.70" height="4.60" fill="#ec3832"/>
<text x="144.3" y="1199.5" fill="#3dae4d" font-size="16.8" textLength="135.3" lengthAdjust="spacingAndGlyphs">CHO-H<tspan font-size="9.4" dy="5.9">4</tspan><tspan dy="-5.9">PteGlu-F</tspan><tspan font-size="9.4" dy="5.9">1</tspan></text>
<text x="176.4" y="1219.1" fill="#3dae4d" font-size="17.6" textLength="70.7" lengthAdjust="spacingAndGlyphs">327.1200</text>
<text x="90.3" y="1240.4" fill="#3dae4d" font-size="16.8" textLength="91.9" lengthAdjust="spacingAndGlyphs">H<tspan font-size="9.4" dy="5.9">4</tspan><tspan dy="-5.9">PteGlu-F</tspan><tspan font-size="9.4" dy="5.9">5</tspan></text>
<text x="103.4" y="1260.0" fill="#3dae4d" font-size="17.6" textLength="70.1" lengthAdjust="spacingAndGlyphs">166.0723</text>
<text x="324.6" y="1203.3" fill="#c01e33" font-size="16.8" textLength="52.2" lengthAdjust="spacingAndGlyphs">[M+H]<tspan font-size="9.7" dy="-6.0">+</tspan></text>
<text x="316.4" y="1221.2" fill="#c01e33" font-size="17.6" textLength="70.7" lengthAdjust="spacingAndGlyphs">456.1621</text>
<text x="314.8" y="1260.8" fill="#343895" font-size="16.8" textLength="113.3" lengthAdjust="spacingAndGlyphs">CHO-H<tspan font-size="9.4" dy="5.9">4</tspan><tspan dy="-5.9">PteGlu</tspan></text>
<text x="335.2" y="1279.6" fill="#343895" font-size="17.6" textLength="72.4" lengthAdjust="spacingAndGlyphs">474.1732</text>
<text x="534.8" y="1244.2" fill="#ec3d3a" font-size="16.8" textLength="61.4" lengthAdjust="spacingAndGlyphs">[2M+H]<tspan font-size="9.7" dy="-6.0">+</tspan></text>
<text x="532.8" y="1266.7" fill="#ec3d3a" font-size="17.6" textLength="69.8" lengthAdjust="spacingAndGlyphs">911.3207</text>
<path d="M214.70 1227.80L229.60 1275.55M232.52 1269.15L229.90 1276.50L223.56 1271.95" stroke="#9bd8a5" stroke-width="2.60" fill="none" stroke-linejoin="miter" stroke-miterlimit="10"/>
<path d="M143.20 1266.60L147.75 1275.61M149.58 1268.82L148.20 1276.50L141.20 1273.06" stroke="#9bd8a5" stroke-width="2.60" fill="none" stroke-linejoin="miter" stroke-miterlimit="10"/>
<path d="M310.40 1217.00L299.53 1224.34M306.49 1225.30L298.70 1224.90L301.24 1217.52" stroke="#e899a4" stroke-width="2.60" fill="none" stroke-linejoin="miter" stroke-miterlimit="10"/>
<path d="M313.90 1266.60L305.79 1275.17M312.79 1274.60L305.10 1275.90L305.97 1268.15" stroke="#9fa2d4" stroke-width="2.60" fill="none" stroke-linejoin="miter" stroke-miterlimit="10"/>
<path d="M528.80 1266.60L522.06 1276.57M528.88 1274.87L521.50 1277.40L521.10 1269.61" stroke="#f3a09c" stroke-width="2.60" fill="none" stroke-linejoin="miter" stroke-miterlimit="10"/>
<path d="M66.40 1338.30V1424.00M58.10 1415.80H667.20M58.10 1415.80H66.40M61.40 1408.17H66.40M61.40 1400.54H66.40M61.40 1392.91H66.40M61.40 1385.28H66.40M58.10 1377.65H66.40M61.40 1370.02H66.40M61.40 1362.39H66.40M61.40 1354.76H66.40M61.40 1347.13H66.40M58.10 1339.50H66.40M116.40 1415.80V1424.00M166.40 1415.80V1424.00M216.40 1415.80V1424.00M266.40 1415.80V1424.00M316.40 1415.80V1424.00M366.40 1415.80V1424.00M416.40 1415.80V1424.00M466.40 1415.80V1424.00M516.40 1415.80V1424.00M566.40 1415.80V1424.00M616.40 1415.80V1424.00M666.40 1415.80V1424.00" stroke="#8b8c90" stroke-width="2.50" fill="none"/>
<text x="23.90" y="1344.30" fill="#76777a" font-size="17" textLength="27.10" lengthAdjust="spacingAndGlyphs">100</text>
<text x="32.70" y="1382.85" fill="#76777a" font-size="17" textLength="18.30" lengthAdjust="spacingAndGlyphs">50</text>
<text x="42.10" y="1421.40" fill="#76777a" font-size="17" textLength="8.90" lengthAdjust="spacingAndGlyphs">0</text>
<text x="595.0" y="1325.7" fill="#111111" font-size="17.0" font-weight="bold" textLength="72.7" lengthAdjust="spacingAndGlyphs">H<tspan font-size="9.5" dy="5.9">4</tspan><tspan dy="-5.9">PteGlu</tspan></text>
<rect x="147.65" y="1411.20" width="2.70" height="4.60" fill="#38b34a"/>
<rect x="213.95" y="1410.30" width="2.70" height="5.50" fill="#38b34a"/>
<rect x="287.25" y="1338.80" width="2.70" height="77.00" fill="#bd1a2c"/>
<rect x="298.35" y="1411.20" width="2.70" height="4.60" fill="#1270b8"/>
<rect x="370.95" y="1413.00" width="2.70" height="2.80" fill="#8c8e92"/>
<rect x="511.25" y="1402.00" width="2.70" height="13.80" fill="#ec3832"/>
<rect x="525.15" y="1412.40" width="2.70" height="3.40" fill="#1270b8"/>
<text x="119.5" y="1366.9" fill="#3dae4d" font-size="16.8" textLength="16.0" lengthAdjust="spacingAndGlyphs">F<tspan font-size="9.4" dy="5.9">5</tspan></text>
<text x="92.3" y="1387.1" fill="#3dae4d" font-size="17.6" textLength="70.7" lengthAdjust="spacingAndGlyphs">166.0723</text>
<text x="221.8" y="1366.9" fill="#3dae4d" font-size="16.8" textLength="14.8" lengthAdjust="spacingAndGlyphs">F<tspan font-size="9.4" dy="5.9">1</tspan></text>
<text x="194.1" y="1387.1" fill="#3dae4d" font-size="17.6" textLength="70.2" lengthAdjust="spacingAndGlyphs">299.1251</text>
<text x="205.9" y="1323.1" fill="#c01e33" font-size="16.8" textLength="50.8" lengthAdjust="spacingAndGlyphs">[M+H]<tspan font-size="9.7" dy="-6.0">+</tspan></text>
<text x="197.1" y="1341.8" fill="#c01e33" font-size="17.6" textLength="70.7" lengthAdjust="spacingAndGlyphs">446.1777</text>
<text x="299.9" y="1365.4" fill="#2a79bf" font-size="16.8" textLength="61.3" lengthAdjust="spacingAndGlyphs">[M+Na]<tspan font-size="9.7" dy="-6.0">+</tspan></text>
<text x="294.9" y="1383.3" fill="#2a79bf" font-size="17.6" textLength="71.6" lengthAdjust="spacingAndGlyphs">468.1599</text>
<text x="339.8" y="1405.5" fill="#8b8c8f" font-size="17.6" textLength="70.7" lengthAdjust="spacingAndGlyphs">504.2314</text>
<text x="455.1" y="1360.5" fill="#ec3d3a" font-size="16.8" textLength="60.5" lengthAdjust="spacingAndGlyphs">[2M+H]<tspan font-size="9.7" dy="-6.0">+</tspan></text>
<text x="451.6" y="1380.4" fill="#ec3d3a" font-size="17.6" textLength="71.9" lengthAdjust="spacingAndGlyphs">891.3519</text>
<text x="543.0" y="1386.7" fill="#2a79bf" font-size="16.8" textLength="71.2" lengthAdjust="spacingAndGlyphs">[2M+Na]<tspan font-size="9.7" dy="-6.0">+</tspan></text>
<text x="544.5" y="1406.6" fill="#2a79bf" font-size="17.6" textLength="71.5" lengthAdjust="spacingAndGlyphs">913.3344</text>
<path d="M143.20 1393.70L148.56 1404.50M150.44 1397.73L149.00 1405.40L142.03 1401.90" stroke="#9bd8a5" stroke-width="2.60" fill="none" stroke-linejoin="miter" stroke-miterlimit="10"/>
<path d="M222.00 1393.70L215.23 1404.55M221.98 1402.60L214.70 1405.40L214.01 1397.63" stroke="#9bd8a5" stroke-width="2.60" fill="none" stroke-linejoin="miter" stroke-miterlimit="10"/>
<path d="M274.90 1340.30L282.07 1346.92M281.41 1339.92L282.80 1347.60L275.04 1346.82" stroke="#e899a4" stroke-width="2.60" fill="none" stroke-linejoin="miter" stroke-miterlimit="10"/>
<path d="M308.50 1389.00L300.13 1406.50M306.62 1403.81L299.70 1407.40L298.15 1399.75" stroke="#8fc4e8" stroke-width="2.60" fill="none" stroke-linejoin="miter" stroke-miterlimit="10"/>
<path d="M331.80 1401.60L323.35 1406.87M330.27 1408.09L322.50 1407.40L325.30 1400.12" stroke="#c9cacc" stroke-width="2.60" fill="none" stroke-linejoin="miter" stroke-miterlimit="10"/>
<path d="M502.80 1387.80L509.75 1395.84M509.88 1388.82L510.40 1396.60L502.78 1394.95" stroke="#f3a09c" stroke-width="2.60" fill="none" stroke-linejoin="miter" stroke-miterlimit="10"/>
<path d="M539.90 1400.70L529.58 1408.88M536.60 1409.31L528.80 1409.50L530.77 1401.95" stroke="#8fc4e8" stroke-width="2.60" fill="none" stroke-linejoin="miter" stroke-miterlimit="10"/>
<path d="M65.70 1470.20V1557.00M57.40 1548.80H666.50M57.40 1548.80H65.70M60.70 1541.06H65.70M60.70 1533.32H65.70M60.70 1525.58H65.70M60.70 1517.84H65.70M57.40 1510.10H65.70M60.70 1502.36H65.70M60.70 1494.62H65.70M60.70 1486.88H65.70M60.70 1479.14H65.70M57.40 1471.40H65.70M115.70 1548.80V1557.00M165.70 1548.80V1557.00M215.70 1548.80V1557.00M265.70 1548.80V1557.00M315.70 1548.80V1557.00M365.70 1548.80V1557.00M415.70 1548.80V1557.00M465.70 1548.80V1557.00M515.70 1548.80V1557.00M565.70 1548.80V1557.00M615.70 1548.80V1557.00M665.70 1548.80V1557.00" stroke="#8b8c90" stroke-width="2.50" fill="none"/>
<text x="23.20" y="1476.20" fill="#76777a" font-size="17" textLength="27.10" lengthAdjust="spacingAndGlyphs">100</text>
<text x="32.00" y="1515.30" fill="#76777a" font-size="17" textLength="18.30" lengthAdjust="spacingAndGlyphs">50</text>
<text x="41.40" y="1554.40" fill="#76777a" font-size="17" textLength="8.90" lengthAdjust="spacingAndGlyphs">0</text>
<text x="595.0" y="1455.7" fill="#111111" font-size="17.0" font-weight="bold" textLength="72.7" lengthAdjust="spacingAndGlyphs">H<tspan font-size="9.5" dy="5.9">2</tspan><tspan dy="-5.9">PteGlu</tspan></text>
<rect x="116.45" y="1541.20" width="2.70" height="7.60" fill="#8c8e92"/>
<rect x="157.95" y="1528.60" width="2.70" height="20.20" fill="#8c8e92"/>
<rect x="198.75" y="1468.80" width="2.70" height="80.00" fill="#8c8e92"/>
<rect x="214.85" y="1543.20" width="2.70" height="5.60" fill="#8c8e92"/>
<rect x="240.25" y="1528.60" width="2.70" height="20.20" fill="#8c8e92"/>
<rect x="271.85" y="1546.00" width="2.70" height="2.80" fill="#8c8e92"/>
<rect x="280.65" y="1510.30" width="2.70" height="38.50" fill="#8c8e92"/>
<rect x="286.45" y="1527.80" width="2.70" height="21.00" fill="#bd1a2c"/>
<text x="69.8" y="1519.1" fill="#8b8c8f" font-size="17.6" textLength="69.8" lengthAdjust="spacingAndGlyphs">104.9922</text>
<text x="106.3" y="1492.8" fill="#8b8c8f" font-size="17.6" textLength="70.1" lengthAdjust="spacingAndGlyphs">186.9951</text>
<text x="109.2" y="1468.3" fill="#8b8c8f" font-size="17.6" textLength="70.7" lengthAdjust="spacingAndGlyphs">268.9978</text>
<text x="207.7" y="1459.6" fill="#8b8c8f" font-size="17.6" textLength="70.7" lengthAdjust="spacingAndGlyphs">301.1407</text>
<text x="225.2" y="1484.1" fill="#8b8c8f" font-size="17.6" textLength="71.6" lengthAdjust="spacingAndGlyphs">351.0010</text>
<text x="302.0" y="1500.4" fill="#8b8c8f" font-size="17.6" textLength="71.6" lengthAdjust="spacingAndGlyphs">433.0040</text>
<text x="317.5" y="1520.3" fill="#c01e33" font-size="16.8" textLength="50.8" lengthAdjust="spacingAndGlyphs">[M+H]<tspan font-size="9.7" dy="-6.0">+</tspan></text>
<text x="304.9" y="1539.0" fill="#c01e33" font-size="17.6" textLength="79.5" lengthAdjust="spacingAndGlyphs">444.16187</text>
<path d="M114.00 1523.70L115.37 1534.41M119.36 1528.62L115.50 1535.40L110.05 1529.82" stroke="#c9cacc" stroke-width="2.60" fill="none" stroke-linejoin="miter" stroke-miterlimit="10"/>
<path d="M158.70 1496.50L158.70 1524.70M163.39 1519.47L158.70 1525.70L154.01 1519.47" stroke="#c9cacc" stroke-width="2.60" fill="none" stroke-linejoin="miter" stroke-miterlimit="10"/>
<path d="M185.50 1465.90L194.11 1472.59M192.86 1465.67L194.90 1473.20L187.10 1473.09" stroke="#c9cacc" stroke-width="2.60" fill="none" stroke-linejoin="miter" stroke-miterlimit="10"/>
<path d="M216.20 1465.90L216.20 1536.40M220.89 1531.17L216.20 1537.40L211.51 1531.17" stroke="#c9cacc" stroke-width="2.60" fill="none" stroke-linejoin="miter" stroke-miterlimit="10"/>
<path d="M241.60 1487.80L241.60 1523.30M246.29 1518.07L241.60 1524.30L236.91 1518.07" stroke="#c9cacc" stroke-width="2.60" fill="none" stroke-linejoin="miter" stroke-miterlimit="10"/>
<path d="M297.40 1499.50L287.22 1506.72M294.20 1507.53L286.40 1507.30L288.77 1499.87" stroke="#c9cacc" stroke-width="2.60" fill="none" stroke-linejoin="miter" stroke-miterlimit="10"/>
<path d="M306.20 1517.80L295.33 1525.14M302.29 1526.10L294.50 1525.70L297.04 1518.32" stroke="#e899a4" stroke-width="2.60" fill="none" stroke-linejoin="miter" stroke-miterlimit="10"/>
<path d="M65.40 1597.20V1684.80M57.10 1676.60H666.20M57.10 1676.60H65.40M60.40 1668.78H65.40M60.40 1660.96H65.40M60.40 1653.14H65.40M60.40 1645.32H65.40M57.10 1637.50H65.40M60.40 1629.68H65.40M60.40 1621.86H65.40M60.40 1614.04H65.40M60.40 1606.22H65.40M57.10 1598.40H65.40M115.40 1676.60V1684.80M165.40 1676.60V1684.80M215.40 1676.60V1684.80M265.40 1676.60V1684.80M315.40 1676.60V1684.80M365.40 1676.60V1684.80M415.40 1676.60V1684.80M465.40 1676.60V1684.80M515.40 1676.60V1684.80M565.40 1676.60V1684.80M615.40 1676.60V1684.80M665.40 1676.60V1684.80" stroke="#8b8c90" stroke-width="2.50" fill="none"/>
<text x="22.90" y="1603.20" fill="#76777a" font-size="17" textLength="27.10" lengthAdjust="spacingAndGlyphs">100</text>
<text x="31.70" y="1642.70" fill="#76777a" font-size="17" textLength="18.30" lengthAdjust="spacingAndGlyphs">50</text>
<text x="41.10" y="1682.20" fill="#76777a" font-size="17" textLength="8.90" lengthAdjust="spacingAndGlyphs">0</text>
<text x="612.5" y="1588.6" fill="#111111" font-size="17.0" font-weight="bold" textLength="54.3" lengthAdjust="spacingAndGlyphs">PteGlu</text>
<rect x="129.35" y="1667.40" width="2.70" height="9.20" fill="#38b34a"/>
<rect x="146.25" y="1670.30" width="2.70" height="6.30" fill="#38b34a"/>
<rect x="152.65" y="1660.70" width="2.70" height="15.90" fill="#8c8e92"/>
<rect x="198.05" y="1663.60" width="3.10" height="13.00" fill="#2b2f8f"/>
<rect x="211.95" y="1637.30" width="2.70" height="39.30" fill="#38b34a"/>
<rect x="221.55" y="1668.30" width="2.70" height="8.30" fill="#8c8e92"/>
<rect x="226.55" y="1669.50" width="2.70" height="7.10" fill="#8c8e92"/>
<rect x="286.05" y="1596.50" width="2.70" height="80.10" fill="#bd1a2c"/>
<rect x="296.55" y="1669.50" width="2.70" height="7.10" fill="#1270b8"/>
<rect x="507.05" y="1668.90" width="2.70" height="7.70" fill="#ec3832"/>
<text x="64.9" y="1576.7" fill="#3dae4d" font-size="16.8" textLength="99.8" lengthAdjust="spacingAndGlyphs">[Glu+H-H<tspan font-size="9.4" dy="5.9">2</tspan><tspan dy="-5.9">O]</tspan><tspan font-size="9.7" dy="-6.0">+</tspan></text>
<text x="80.0" y="1596.0" fill="#3dae4d" font-size="17.6" textLength="70.7" lengthAdjust="spacingAndGlyphs">130.0499</text>
<text x="139.0" y="1618.7" fill="#3dae4d" font-size="16.8" textLength="44.4" lengthAdjust="spacingAndGlyphs">Pterin</text>
<text x="127.3" y="1639.2" fill="#3dae4d" font-size="17.6" textLength="68.7" lengthAdjust="spacingAndGlyphs">164.0578</text>
<text x="177.8" y="1576.7" fill="#343895" font-size="16.8" textLength="117.4" lengthAdjust="spacingAndGlyphs"><tspan font-style="italic">p</tspan>ABGlu [M+H]<tspan font-size="9.7" dy="-6.0">+</tspan></text>
<text x="200.3" y="1596.0" fill="#343895" font-size="17.6" textLength="70.6" lengthAdjust="spacingAndGlyphs">267.0976</text>
<text x="234.4" y="1613.8" fill="#3dae4d" font-size="16.8" textLength="25.7" lengthAdjust="spacingAndGlyphs">Pte</text>
<text x="211.1" y="1631.6" fill="#3dae4d" font-size="17.6" textLength="70.6" lengthAdjust="spacingAndGlyphs">295.0944</text>
<text x="314.2" y="1600.0" fill="#c01e33" font-size="16.8" textLength="51.7" lengthAdjust="spacingAndGlyphs">[M+H]<tspan font-size="9.7" dy="-6.0">+</tspan></text>
<text x="306.9" y="1619.3" fill="#c01e33" font-size="17.6" textLength="71.5" lengthAdjust="spacingAndGlyphs">442.1468</text>
<text x="319.5" y="1647.9" fill="#2a79bf" font-size="16.8" textLength="61.0" lengthAdjust="spacingAndGlyphs">[M+Na]<tspan font-size="9.7" dy="-6.0">+</tspan></text>
<text x="316.5" y="1667.5" fill="#2a79bf" font-size="17.6" textLength="71.3" lengthAdjust="spacingAndGlyphs">464.1295</text>
<text x="534.2" y="1642.9" fill="#ec3d3a" font-size="16.8" textLength="61.4" lengthAdjust="spacingAndGlyphs">[2M+H]<tspan font-size="9.7" dy="-6.0">+</tspan></text>
<text x="531.3" y="1662.5" fill="#ec3d3a" font-size="17.6" textLength="71.3" lengthAdjust="spacingAndGlyphs">883.2667</text>
<path d="M112.60 1603.20L129.24 1664.43M132.40 1658.16L129.50 1665.40L123.34 1660.62" stroke="#9bd8a5" stroke-width="2.60" fill="none" stroke-linejoin="miter" stroke-miterlimit="10"/>
<path d="M147.00 1647.80L147.00 1664.40M151.69 1659.17L147.00 1665.40L142.31 1659.17" stroke="#9bd8a5" stroke-width="2.60" fill="none" stroke-linejoin="miter" stroke-miterlimit="10"/>
<path d="M211.20 1601.70L199.80 1657.62M205.44 1653.43L199.60 1658.60L196.24 1651.56" stroke="#9fa2d4" stroke-width="2.60" fill="none" stroke-linejoin="miter" stroke-miterlimit="10"/>
<path d="M229.60 1644.50L219.25 1650.88M226.17 1652.13L218.40 1651.40L221.24 1644.14" stroke="#9bd8a5" stroke-width="2.60" fill="none" stroke-linejoin="miter" stroke-miterlimit="10"/>
<path d="M304.30 1604.00L294.92 1610.53M301.89 1611.39L294.10 1611.10L296.53 1603.69" stroke="#e899a4" stroke-width="2.60" fill="none" stroke-linejoin="miter" stroke-miterlimit="10"/>
<path d="M311.60 1660.70L301.68 1666.03M308.51 1667.69L300.80 1666.50L304.07 1659.42" stroke="#8fc4e8" stroke-width="2.60" fill="none" stroke-linejoin="miter" stroke-miterlimit="10"/>
<path d="M524.40 1657.20L513.55 1663.97M520.47 1665.19L512.70 1664.50L515.50 1657.22" stroke="#f3a09c" stroke-width="2.60" fill="none" stroke-linejoin="miter" stroke-miterlimit="10"/>
<path d="M64.60 1723.40V1812.40M56.30 1804.20H665.40M56.30 1804.20H64.60M59.60 1796.24H64.60M59.60 1788.28H64.60M59.60 1780.32H64.60M59.60 1772.36H64.60M56.30 1764.40H64.60M59.60 1756.44H64.60M59.60 1748.48H64.60M59.60 1740.52H64.60M59.60 1732.56H64.60M56.30 1724.60H64.60M114.60 1804.20V1812.40M164.60 1804.20V1812.40M214.60 1804.20V1812.40M264.60 1804.20V1812.40M314.60 1804.20V1812.40M364.60 1804.20V1812.40M414.60 1804.20V1812.40M464.60 1804.20V1812.40M514.60 1804.20V1812.40M564.60 1804.20V1812.40M614.60 1804.20V1812.40M664.60 1804.20V1812.40" stroke="#8b8c90" stroke-width="2.50" fill="none"/>
<text x="22.10" y="1729.40" fill="#76777a" font-size="17" textLength="27.10" lengthAdjust="spacingAndGlyphs">100</text>
<text x="30.90" y="1769.60" fill="#76777a" font-size="17" textLength="18.30" lengthAdjust="spacingAndGlyphs">50</text>
<text x="40.30" y="1809.80" fill="#76777a" font-size="17" textLength="8.90" lengthAdjust="spacingAndGlyphs">0</text>
<text x="605.8" y="1716.5" fill="#111111" font-size="17.0" font-weight="bold" textLength="62.8" lengthAdjust="spacingAndGlyphs"><tspan font-style="italic" font-weight="normal">p</tspan>ABGlu</text>
<rect x="122.85" y="1787.80" width="2.70" height="16.40" fill="#38b34a"/>
<rect x="128.15" y="1798.90" width="2.70" height="5.30" fill="#38b34a"/>
<rect x="197.35" y="1724.40" width="2.70" height="79.80" fill="#bd1a2c"/>
<rect x="208.35" y="1796.00" width="2.70" height="8.20" fill="#1270b8"/>
<rect x="216.35" y="1800.30" width="2.70" height="3.90" fill="#1270b8"/>
<rect x="225.85" y="1792.40" width="2.70" height="11.80" fill="#8c8e92"/>
<rect x="331.75" y="1802.00" width="2.70" height="2.20" fill="#8c8e92"/>
<rect x="341.25" y="1793.60" width="2.70" height="10.60" fill="#1270b8"/>
<text x="97.6" y="1723.3" fill="#3dae4d" font-size="16.8" textLength="18.7" lengthAdjust="spacingAndGlyphs">Fr.</text>
<text x="72.7" y="1744.1" fill="#3dae4d" font-size="17.6" textLength="69.3" lengthAdjust="spacingAndGlyphs">120.0444</text>
<text x="148.6" y="1757.5" fill="#3dae4d" font-size="16.8" textLength="19.0" lengthAdjust="spacingAndGlyphs">Fr.</text>
<text x="123.2" y="1777.9" fill="#3dae4d" font-size="17.6" textLength="69.8" lengthAdjust="spacingAndGlyphs">130.0490</text>
<text x="154.5" y="1700.1" fill="#c01e33" font-size="16.8" textLength="51.7" lengthAdjust="spacingAndGlyphs">[M+H]<tspan font-size="9.7" dy="-6.0">+</tspan></text>
<text x="146.6" y="1721.6" fill="#c01e33" font-size="17.6" textLength="71.3" lengthAdjust="spacingAndGlyphs">267.0976</text>
<text x="226.1" y="1727.7" fill="#2a79bf" font-size="16.8" textLength="61.9" lengthAdjust="spacingAndGlyphs">[M+Na]<tspan font-size="9.7" dy="-6.0">+</tspan></text>
<text x="224.1" y="1747.0" fill="#2a79bf" font-size="17.6" textLength="70.6" lengthAdjust="spacingAndGlyphs">289.0801</text>
<text x="266.1" y="1772.9" fill="#2a79bf" font-size="16.8" textLength="52.6" lengthAdjust="spacingAndGlyphs">[M+K]<tspan font-size="9.7" dy="-6.0">+</tspan></text>
<text x="259.1" y="1791.7" fill="#2a79bf" font-size="17.6" textLength="70.7" lengthAdjust="spacingAndGlyphs">305.0540</text>
<text x="365.3" y="1775.0" fill="#2a79bf" font-size="16.8" textLength="70.7" lengthAdjust="spacingAndGlyphs">[2M+Na]<tspan font-size="9.7" dy="-6.0">+</tspan></text>
<text x="365.3" y="1795.5" fill="#2a79bf" font-size="17.6" textLength="69.8" lengthAdjust="spacingAndGlyphs">555.1701</text>
<path d="M111.10 1750.70L122.44 1780.47M124.97 1773.91L122.80 1781.40L116.20 1777.25" stroke="#9bd8a5" stroke-width="2.60" fill="none" stroke-linejoin="miter" stroke-miterlimit="10"/>
<path d="M142.30 1784.30L133.15 1792.34M140.18 1792.41L132.40 1793.00L133.98 1785.36" stroke="#9bd8a5" stroke-width="2.60" fill="none" stroke-linejoin="miter" stroke-miterlimit="10"/>
<path d="M230.90 1755.10L209.56 1786.97M216.37 1785.24L209.00 1787.80L208.57 1780.01" stroke="#8fc4e8" stroke-width="2.60" fill="none" stroke-linejoin="miter" stroke-miterlimit="10"/>
<path d="M257.70 1779.00L220.52 1795.00M227.18 1797.25L219.60 1795.40L223.47 1788.63" stroke="#8fc4e8" stroke-width="2.60" fill="none" stroke-linejoin="miter" stroke-miterlimit="10"/>
<path d="M358.50 1787.00L348.15 1790.39M354.58 1793.22L347.20 1790.70L351.66 1784.30" stroke="#8fc4e8" stroke-width="2.60" fill="none" stroke-linejoin="miter" stroke-miterlimit="10"/>
<text x="115.1" y="1831.0" fill="#7c7d80" font-size="17" text-anchor="middle">100</text>
<text x="215.0" y="1831.0" fill="#7c7d80" font-size="17" text-anchor="middle">300</text>
<text x="315.0" y="1831.0" fill="#7c7d80" font-size="17" text-anchor="middle">500</text>
<text x="415.0" y="1831.0" fill="#7c7d80" font-size="17" text-anchor="middle">700</text>
<text x="517.5" y="1831.0" fill="#7c7d80" font-size="17" text-anchor="middle">900</text>
<text x="614.9" y="1831.0" fill="#7c7d80" font-size="17" text-anchor="middle">1100</text>
<text x="652.9" y="1830.2" fill="#7c7d80" font-size="15.5" font-style="italic" textLength="27" lengthAdjust="spacingAndGlyphs">m/z</text>
</svg>
</body></html>
